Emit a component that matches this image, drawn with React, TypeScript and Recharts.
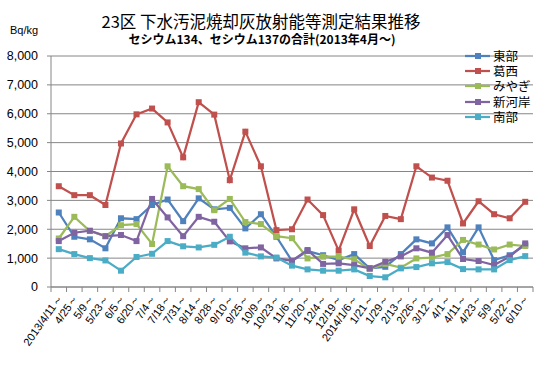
import { LineChart, Line, XAxis, YAxis, CartesianGrid } from "recharts"

const categories = [
  "2013/4/11～", "4/25～", "5/9～", "5/23～", "6/5～", "6/20～", "7/4～", "7/18～",
  "7/31～", "8/14～", "8/28～", "9/10～", "9/25～", "10/9～", "10/23～", "11/6～",
  "11/20～", "12/4～", "12/19～", "2014/1/6～", "1/21～", "1/29～", "2/13～", "2/26～",
  "3/12～", "4/1～", "4/11～", "4/23～", "5/9～", "5/22～", "6/10～",
]

const east = [2580, 1740, 1650, 1340, 2380, 2350, 2840, 3030, 2280, 3070, 2690, 2740, 2030, 2520, 1740, 900, 1245, 1100, 930, 1140, 650, 700, 1140, 1650, 1510, 2065, 1200, 2065, 930, 1100, 1450]
const kasai = [3490, 3180, 3180, 2840, 4970, 5980, 6180, 5700, 4490, 6400, 5970, 3700, 5380, 4180, 1970, 2000, 3030, 2490, 1260, 2690, 1420, 2460, 2350, 4180, 3790, 3680, 2200, 2970, 2520, 2380, 2950]
const miyagi = [1680, 2430, 1940, 1760, 2140, 2180, 1490, 4180, 3490, 3390, 2660, 3050, 2250, 2180, 1760, 1690, 990, 1050, 1050, 960, 620, 800, 670, 990, 1020, 1140, 1630, 1470, 1300, 1470, 1420]
const shinkashi = [1590, 1880, 1950, 1760, 1800, 1590, 3050, 2410, 1760, 2430, 2260, 1580, 1340, 1370, 990, 910, 1280, 800, 820, 760, 645, 875, 1060, 1340, 1190, 1800, 970, 900, 760, 1050, 1510]
const nanbu = [1310, 1140, 1000, 920, 565, 1040, 1150, 1590, 1410, 1370, 1460, 1740, 1190, 1060, 1020, 740, 610, 565, 565, 610, 380, 335, 645, 690, 820, 862, 620, 610, 610, 930, 1070]

const yTicks = [0, 1000, 2000, 3000, 4000, 5000, 6000, 7000, 8000]

const series = [
  { key: "east", name: "東部", color: "#4F81BD", values: east },
  { key: "kasai", name: "葛西", color: "#C0504D", values: kasai },
  { key: "miyagi", name: "みやぎ", color: "#9BBB59", values: miyagi },
  { key: "shinkashi", name: "新河岸", color: "#8064A2", values: shinkashi },
  { key: "nanbu", name: "南部", color: "#4BACC6", values: nanbu },
]

const data = categories.map((c, i) => {
  const row: any = { cat: c }
  series.forEach((s) => (row[s.key] = s.values[i]))
  return row
})

const PLOT_LEFT = 51
const PLOT_RIGHT = 533
const BAND = (PLOT_RIGHT - PLOT_LEFT) / categories.length
const GRID = "#868686"
const NUM_FONT = "'Liberation Sans', Arial, sans-serif"
const JP_FONT = "'Noto Sans CJK JP', sans-serif"

function SquareDot(props: any) {
  const { cx, cy, stroke } = props
  if (cx == null || cy == null) return null
  return <rect x={cx - 3} y={cy - 3} width={6} height={6} fill={stroke} />
}

// tick marks sit between categories, like the Excel original
function XTick(props: any) {
  const { x, y, payload, index } = props
  const last = index === categories.length - 1
  return (
    <g>
      <line x1={x - BAND / 2} x2={x - BAND / 2} y1={y} y2={y + 5} stroke={GRID} />
      {last && <line x1={x + BAND / 2} x2={x + BAND / 2} y1={y} y2={y + 5} stroke={GRID} />}
      <text
        transform={`translate(${x + 1},${y + 9}) rotate(-55)`}
        textAnchor="end"
        dy="0.35em"
        fontSize={11}
        fontFamily={NUM_FONT}
        fill="#000"
      >
        {payload.value}
      </text>
    </g>
  )
}

export default function App() {
  return (
    <div style={{ position: "absolute", left: 0, top: 0, width: 537, height: 366, background: "#fff" }}>
      <LineChart width={537} height={366} data={data} margin={{ top: 56, right: 4, left: 0, bottom: 0 }}>
        <CartesianGrid vertical={false} stroke={GRID} />
        <XAxis
          dataKey="cat"
          interval={0}
          height={79}
          padding={{ left: BAND / 2, right: BAND / 2 }}
          tickSize={0}
          tickMargin={0}
          tickLine={false}
          axisLine={{ stroke: GRID }}
          tick={(p: any) => <XTick {...p} />}
        />
        <YAxis
          width={51}
          domain={[0, 8000]}
          ticks={yTicks}
          tickFormatter={(v: number) => v.toLocaleString("en-US")}
          tickSize={4}
          tickMargin={9}
          axisLine={{ stroke: GRID }}
          tickLine={{ stroke: GRID }}
          tick={{ fontSize: 12.5, fill: "#000", fontFamily: NUM_FONT }}
        />
        {series.map((s) => (
          <Line
            key={s.key}
            dataKey={s.key}
            name={s.name}
            stroke={s.color}
            strokeWidth={2.25}
            dot={(p: any) => <SquareDot key={p.key} {...p} />}
            activeDot={false}
            isAnimationActive={false}
          />
        ))}
      </LineChart>

      <div style={{ position: "absolute", left: 0, top: 13, width: 522, textAlign: "center", fontFamily: JP_FONT, fontSize: 16.5, lineHeight: "16px", color: "#000" }}>
        23区 下水汚泥焼却灰放射能等測定結果推移
      </div>
      <div style={{ position: "absolute", left: 0, top: 32, width: 524, textAlign: "center", fontFamily: JP_FONT, fontSize: 12, fontWeight: 700, lineHeight: "14px", color: "#000" }}>
        セシウム134、セシウム137の合計(2013年4月～)
      </div>
      <div style={{ position: "absolute", left: 10, top: 23, fontFamily: NUM_FONT, fontSize: 11, lineHeight: "14px", color: "#000" }}>
        Bq/kg
      </div>

      <div style={{ position: "absolute", left: 465, top: 48 }}>
        {series.map((s) => (
          <div key={s.key} style={{ display: "flex", alignItems: "center", height: 15.4 }}>
            <svg width={28} height={10} style={{ display: "block" }}>
              <line x1={0} x2={25} y1={5} y2={5} stroke={s.color} strokeWidth={2.25} />
              <rect x={10} y={2} width={6} height={6} fill={s.color} />
            </svg>
            <span style={{ display: "block", height: 14, overflow: "visible", fontFamily: JP_FONT, fontSize: 12.5, lineHeight: "14px", color: "#000", whiteSpace: "nowrap" }}>{s.name}</span>
          </div>
        ))}
      </div>
    </div>
  )
}
